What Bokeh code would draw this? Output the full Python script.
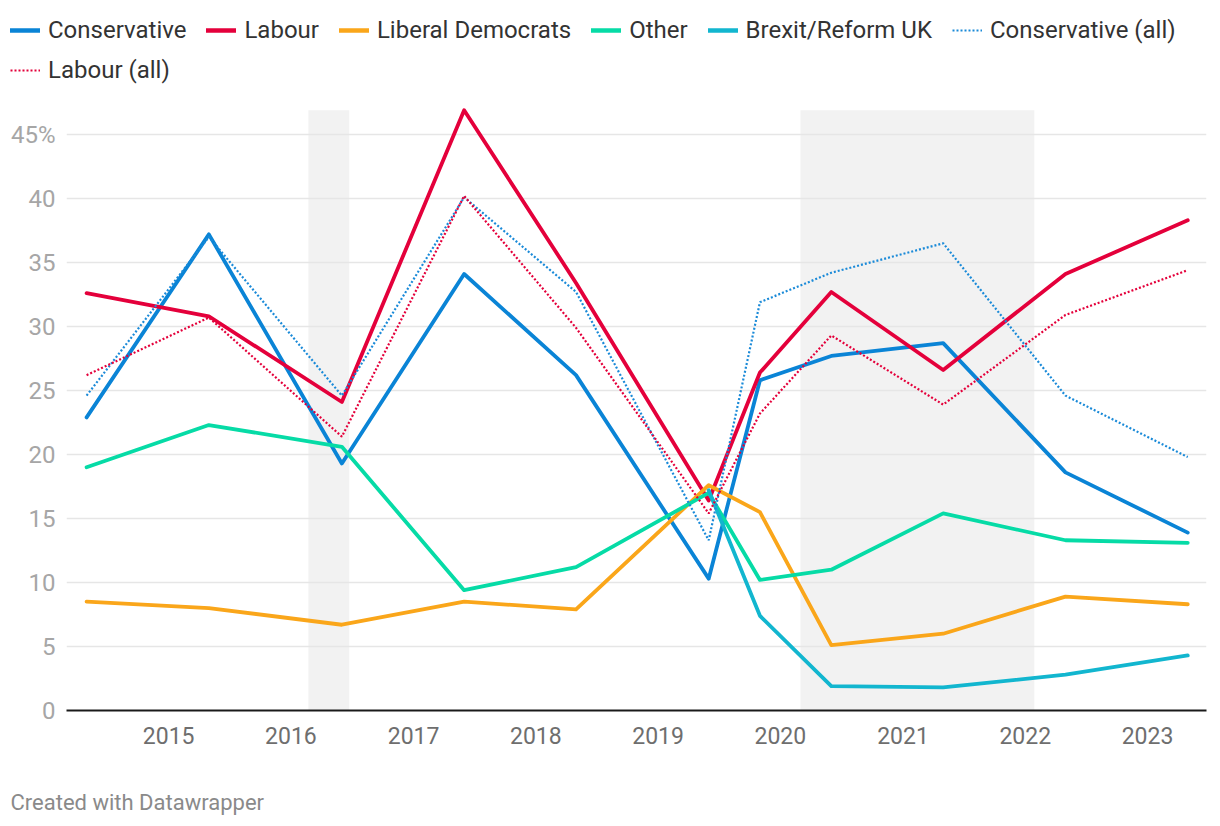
from datetime import datetime, timezone
import numpy as np
import pandas as pd
from bokeh.plotting import figure
from bokeh.layouts import column, row
from bokeh.models import (Range1d, FixedTicker, DatetimeTickFormatter, Legend, LegendItem,
                          Label, ColumnDataSource)
from bokeh.embed import file_html
from bokeh.resources import INLINE

# ---------------- data ----------------
dates = ["2014-05-01", "2015-05-01", "2016-06-01", "2017-06-01", "2018-05-01", "2019-06-01",
         "2019-11-01", "2020-06-01", "2021-05-01", "2022-05-01", "2023-05-01"]
conservative = [22.9, 37.2, 19.3, 34.1, 26.2, 10.3, 25.8, 27.7, 28.7, 18.6, 13.9]
labour = [32.6, 30.8, 24.1, 46.9, 33.4, 16.4, 26.4, 32.7, 26.6, 34.1, 38.3]
lib_dems = [8.5, 8.0, 6.7, 8.5, 7.9, 17.6, 15.5, 5.1, 6.0, 8.9, 8.3]
other = [19.0, 22.3, 20.6, 9.4, 11.2, 17.0, 10.2, 11.0, 15.4, 13.3, 13.1]
brexit_reform = [None, None, None, None, None, 17.2, 7.4, 1.9, 1.8, 2.8, 4.3]
conservative_all = [24.6, 37.0, 24.6, 40.1, 32.7, 13.3, 31.9, 34.2, 36.5, 24.6, 19.8]
labour_all = [26.2, 30.7, 21.4, 40.2, 29.9, 15.4, 23.2, 29.3, 23.9, 30.9, 34.4]

shade_starts = ["2016-02-22", "2020-03-01"]
shade_ends = ["2016-06-23", "2022-01-28"]
shade_top = 46.9

year_ticks = [2015, 2016, 2017, 2018, 2019, 2020, 2021, 2022, 2023]
y_ticks = [0, 5, 10, 15, 20, 25, 30, 35, 40, 45]
y_labels = {45: "45%"}

series = [
    ("Conservative", "con", "#0a84d6", "solid"),
    ("Labour", "lab", "#e4003b", "solid"),
    ("Liberal Democrats", "ld", "#faa61a", "solid"),
    ("Other", "oth", "#06dba6", "solid"),
    ("Brexit/Reform UK", "brx", "#12b6cf", "solid"),
    ("Conservative (all)", "con_all", "#1a8ad8", "dotted"),
    ("Labour (all)", "lab_all", "#e4003b", "dotted"),
]

# ---------------- build ----------------
x = pd.to_datetime(dates)
src = ColumnDataSource(dict(
    x=x,
    con=conservative, lab=labour, ld=lib_dems, oth=other,
    brx=[np.nan if v is None else v for v in brexit_reform],
    con_all=conservative_all, lab_all=labour_all,
))

FONT = "Roboto"
W = 1220


def style(kind):
    if kind == "solid":
        return dict(line_width=3.8, line_join="round", line_cap="round")
    return dict(line_width=2.2, line_dash="2 2")


def blank_fig(height):
    f = figure(width=W, height=height, output_backend="svg", toolbar_location=None,
               x_axis_location=None, y_axis_location=None,
               x_range=Range1d(0, 1), y_range=Range1d(0, 1),
               min_border_left=0, min_border_right=0, min_border_top=0, min_border_bottom=0)
    f.outline_line_color = None
    f.xgrid.grid_line_color = None
    f.ygrid.grid_line_color = None
    return f


# ---- header (legend) ----
head = blank_fig(100)
head_items = []
for label, key, color, kind in series:
    # legend swatch carriers (no visible data)
    st = style(kind)
    if kind == "solid":
        st["line_width"] = 4.5
    r = head.line(x=[np.nan], y=[np.nan], line_color=color, **st)
    head_items.append(LegendItem(label=label, renderers=[r]))

common = dict(orientation="horizontal", glyph_width=30, glyph_height=30, label_height=30,
              label_standoff=8, spacing=20, padding=0, margin=0, border_line_color=None,
              background_fill_alpha=0, label_text_font=FONT, label_text_font_size="24px",
              label_text_color="#333333")
head.add_layout(Legend(items=head_items[:6], location=(10, 55), **common))
head.add_layout(Legend(items=head_items[6:], location=(10, 15), **common))

# ---- main chart ----
p = figure(width=W, height=670, x_axis_type="datetime", output_backend="svg",
           toolbar_location=None,
           x_range=Range1d(datetime(2014, 3, 2), datetime(2023, 6, 26)),
           y_range=Range1d(0, 610 / 12.8),
           min_border_left=66, min_border_right=14, min_border_top=0, min_border_bottom=60)
p.outline_line_color = None
p.background_fill_color = "white"
p.border_fill_color = "white"

p.quad(left=pd.to_datetime(shade_starts), right=pd.to_datetime(shade_ends), bottom=0,
       top=shade_top, fill_color="#f2f2f2", line_color=None, level="image")

tick_ms = [datetime(y, 1, 1, tzinfo=timezone.utc).timestamp() * 1000 for y in year_ticks]
p.xaxis.ticker = FixedTicker(ticks=tick_ms)
p.xaxis.formatter = DatetimeTickFormatter(years="%Y", months="%Y", days="%Y", hours="%Y",
                                          minutes="%Y", seconds="%Y", milliseconds="%Y",
                                          microseconds="%Y", minsec="%Y", hourmin="%Y")
p.xaxis.major_tick_line_color = None
p.xaxis.minor_tick_line_color = None
p.xaxis.axis_line_color = "#1a1a1a"
p.xaxis.axis_line_width = 2
p.xaxis.major_label_text_font = FONT
p.xaxis.major_label_text_font_size = "23px"
p.xaxis.major_label_text_color = "#6e6e6e"
p.xaxis.major_label_standoff = 10
p.xgrid.grid_line_color = None

p.yaxis.ticker = FixedTicker(ticks=y_ticks)
p.yaxis.major_label_overrides = y_labels
p.yaxis.axis_line_color = None
p.yaxis.major_tick_line_color = None
p.yaxis.minor_tick_line_color = None
p.yaxis.major_label_text_font = FONT
p.yaxis.major_label_text_font_size = "24px"
p.yaxis.major_label_text_color = "#a6a6a6"
p.yaxis.major_label_standoff = 5
p.ygrid.grid_line_color = "#e6e6e6"
p.ygrid.grid_line_width = 1.5

for label, key, color, kind in series:
    p.line("x", key, source=src, line_color=color, **style(kind))

# ---- footer ----
foot = blank_fig(56)
foot.add_layout(Label(x=10, y=24, x_units="screen", y_units="screen",
                      text="Created with Datawrapper", text_baseline="middle",
                      text_font=FONT, text_font_size="22px", text_color="#8a8a8a"))

layout = column(row(head), p, row(foot), spacing=0)
open("out.html", "w").write(file_html(layout, INLINE))
